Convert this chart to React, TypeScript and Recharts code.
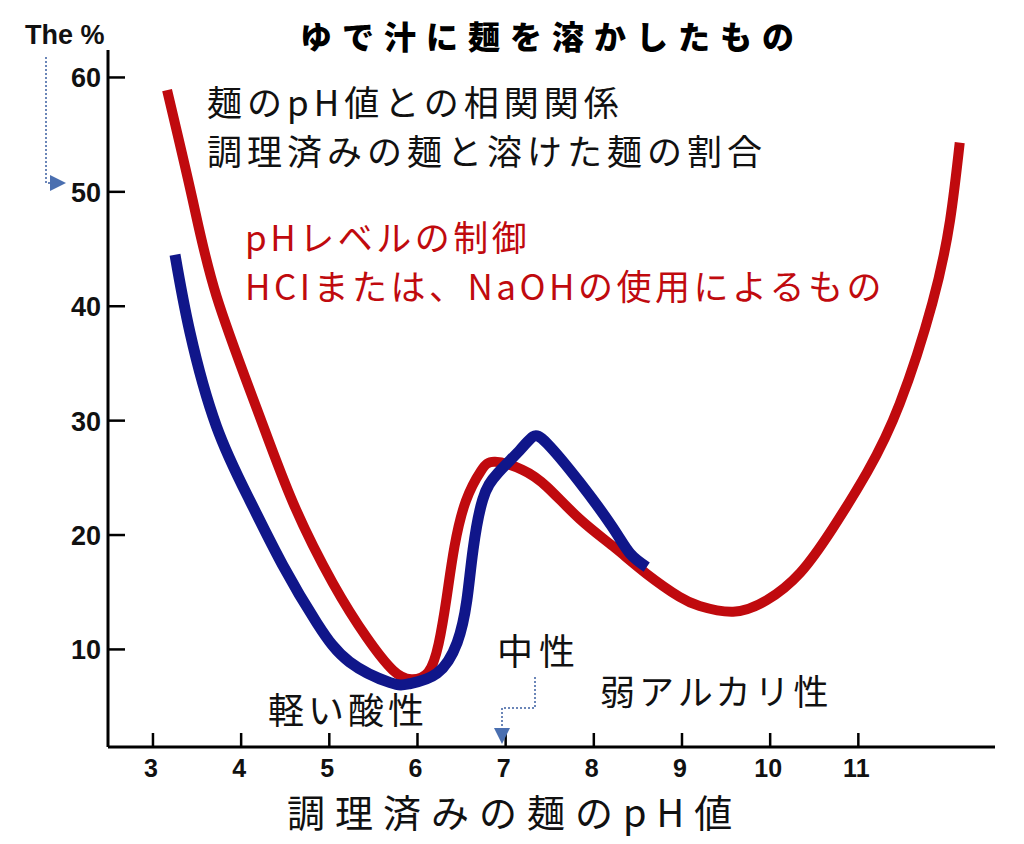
import { LineChart, Line, XAxis, YAxis } from "recharts";

// 赤: pH調整(HCl / NaOH)した麺
const redPh = [3.16, 3.45, 3.72, 4.18, 4.59, 5.04, 5.42, 5.72, 5.93, 6.12, 6.24, 6.33, 6.42, 6.55, 6.72, 6.88, 7.19, 7.47, 7.84, 8.22, 8.6, 8.97, 9.2, 9.58, 9.96, 10.34, 10.71, 11.1, 11.47, 11.84, 12.04, 12.15];
const redPct = [58.9, 49.3, 40.9, 31.0, 22.8, 15.8, 11.1, 8.2, 7.4, 8.0, 10.5, 14.5, 19.0, 23.0, 25.6, 26.4, 25.7, 24.2, 21.4, 19.0, 16.6, 14.6, 13.8, 13.3, 14.3, 16.7, 20.6, 25.5, 31.5, 40.3, 47.5, 54.3];

// 青: 麺のpH値
const bluePh = [3.25, 3.42, 3.72, 4.1, 4.47, 4.86, 5.23, 5.69, 5.91, 6.22, 6.45, 6.56, 6.63, 6.74, 6.91, 7.16, 7.31, 7.47, 7.84, 8.21, 8.41, 8.6];
const bluePct = [44.5, 37.7, 29.5, 23.0, 17.4, 12.3, 8.9, 7.1, 7.0, 7.9, 10.6, 14.3, 18.7, 23.1, 25.4, 27.4, 28.6, 28.0, 24.6, 20.7, 18.4, 17.2];

const xTicks = [3, 4, 5, 6, 7, 8, 9, 10, 11];
const yTicks = [10, 20, 30, 40, 50, 60];

const redData = redPh.map((ph, i) => ({ ph, pct: redPct[i] }));
const blueData = bluePh.map((ph, i) => ({ ph, pct: bluePct[i] }));

const JP = "'Noto Sans CJK JP', sans-serif";
const NUM = "'Liberation Sans', Arial, sans-serif";

const YTick = ({ x, y, payload }: any) => (
  <g>
    <line x1={x} x2={x + 17} y1={y} y2={y} stroke="#000" strokeWidth={2.5} />
    <text x={x - 7} y={y + 10} textAnchor="end" fontFamily={NUM} fontWeight="bold" fontSize={27} fill="#111">
      {payload.value}
    </text>
  </g>
);

const XTick = ({ x, y, payload }: any) => (
  <g>
    <line x1={x} x2={x} y1={y} y2={y - 14} stroke="#000" strokeWidth={2.5} />
    <text x={x - 2} y={y + 30} textAnchor="middle" fontFamily={NUM} fontWeight="bold" fontSize={25} fill="#111">
      {payload.value}
    </text>
  </g>
);

export default function App() {
  return (
    <div style={{ position: "absolute", left: 0, top: 0, width: 1024, height: 844, background: "#fff" }}>
      <LineChart width={1024} height={844} margin={{ top: 50, right: 29, bottom: 0, left: 0 }}>
        <XAxis
          type="number"
          dataKey="ph"
          domain={[2.49, 12.55]}
          ticks={xTicks}
          allowDataOverflow
          height={97}
          tickSize={0}
          tickMargin={0}
          tickLine={false}
          tick={<XTick />}
          axisLine={{ stroke: "#000", strokeWidth: 3 }}
        />
        <YAxis
          type="number"
          dataKey="pct"
          domain={[1.47, 62.4]}
          ticks={yTicks}
          allowDataOverflow
          width={108}
          tickSize={0}
          tickMargin={0}
          tickLine={false}
          tick={<YTick />}
          axisLine={{ stroke: "#000", strokeWidth: 3 }}
        />
        <Line data={redData} dataKey="pct" type="natural" stroke="#c00a0e" strokeWidth={10} dot={false} isAnimationActive={false} />
        <Line data={blueData} dataKey="pct" type="natural" stroke="#10168a" strokeWidth={11} dot={false} isAnimationActive={false} />
      </LineChart>

      <svg width={1024} height={844} style={{ position: "absolute", left: 0, top: 0, pointerEvents: "none" }}>
        <defs>
          <marker id="arr" markerWidth="8" markerHeight="8" refX="6" refY="4" orient="auto">
            <path d="M0,0 L8,4 L0,8 z" fill="#4a6fb0" />
          </marker>
        </defs>
        <text x={25} y={44} fontFamily={NUM} fontWeight="bold" fontSize={27} fill="#111">The %</text>
        <polyline points="46,57 46,183 62,183" fill="none" stroke="#6b86b8" strokeWidth={2} strokeDasharray="2 2" markerEnd="url(#arr)" />
        <polyline points="535,677 535,708 502,708 502,740" fill="none" stroke="#6b86b8" strokeWidth={2} strokeDasharray="2 2" markerEnd="url(#arr)" />

        <text x={300} y={49} fontFamily={JP} fontWeight={900} fontSize={32} letterSpacing={10} fill="#000">ゆで汁に麺を溶かしたもの</text>

        <text fontFamily={JP} fontSize={35} letterSpacing={5} fill="#111">
          <tspan x={207} y={116}>麺のpH値との相関関係</tspan>
          <tspan x={207} y={165}>調理済みの麺と溶けた麺の割合</tspan>
        </text>
        <text fontFamily={JP} fontSize={35} letterSpacing={3.5} fill="#c00a0e">
          <tspan x={245} y={251}>pHレベルの制御</tspan>
          <tspan x={245} y={300}>HCIまたは、NaOHの使用によるもの</tspan>
        </text>

        <text x={497} y={665} fontFamily={JP} fontSize={36} letterSpacing={6} fill="#111">中性</text>
        <text x={268} y={724} fontFamily={JP} fontSize={36} letterSpacing={4} fill="#111">軽い酸性</text>
        <text x={600} y={705} fontFamily={JP} fontSize={35} letterSpacing={4} fill="#111">弱アルカリ性</text>
        <text x={287} y={827} fontFamily={JP} fontSize={38} letterSpacing={10} fill="#111">調理済みの麺のpH値</text>
      </svg>
    </div>
  );
}
